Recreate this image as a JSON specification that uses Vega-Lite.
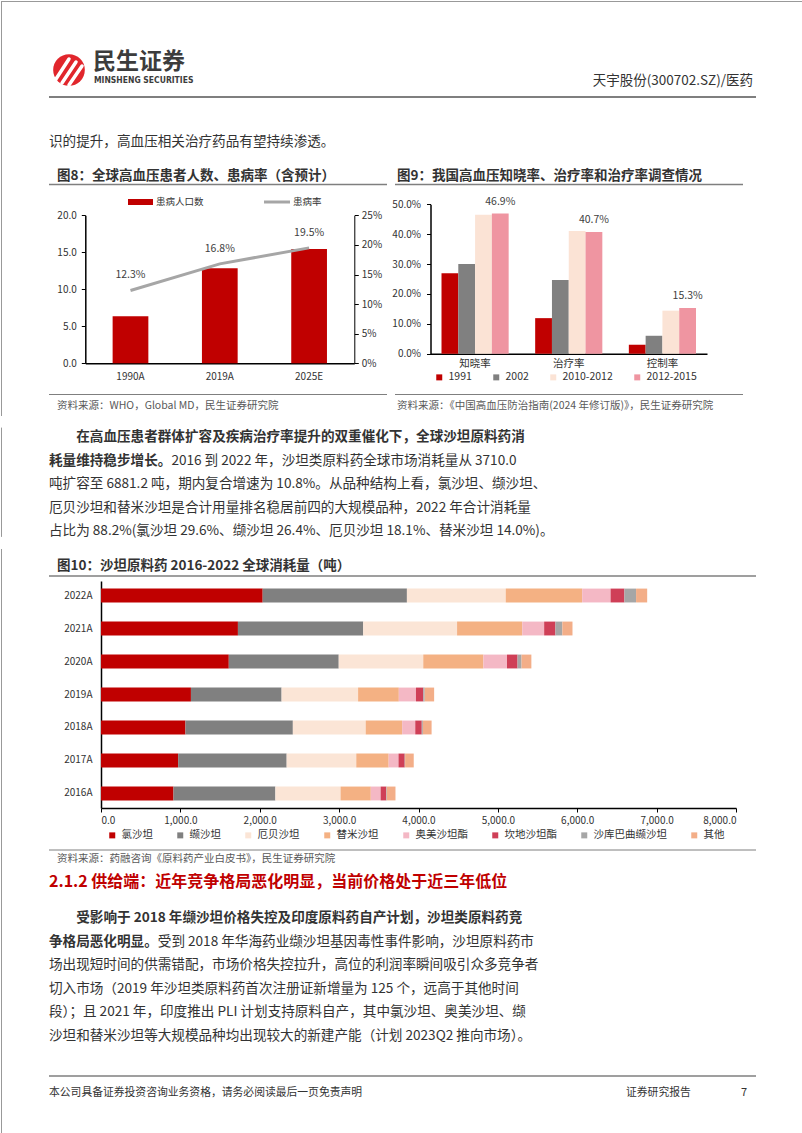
{
"$schema":"https://vega.github.io/schema/vega-lite/v6.json",
"padding":0,
"spacing":0,
"bounds":"flush",
"background":"#ffffff",
"config":{
 "view":{"stroke":null},
 "font":"Noto Sans CJK SC",
 "text":{"font":"Noto Sans CJK SC","color":"#333333"},
 "axis":{"labelFont":"Noto Sans CJK SC","labelColor":"#333333","domainColor":"#000000","tickColor":"#000000","grid":false},
 "legend":{"labelFont":"Noto Sans CJK SC","labelColor":"#333333"}
},
"vconcat":[
 {
  "width":802,"height":160,
  "layer":[
   {"data":{"values":[{}]},"mark":{"type":"rule","color":"#999999","strokeWidth":1},
    "encoding":{"x":{"datum":0.5,"type":"quantitative","scale":{"domain":[0,802],"range":[0,802],"nice":false,"zero":false},"axis":null},
                "y":{"datum":0,"type":"quantitative","scale":{"domain":[0,160],"range":[0,160],"nice":false,"zero":false},"axis":null},
                "y2":{"datum":160}}},
   {"data":{"values":[{}]},"mark":{"type":"rule","color":"#999999","strokeWidth":1},
    "encoding":{"x":{"datum":801.5,"type":"quantitative","scale":{"domain":[0,802],"range":[0,802],"nice":false,"zero":false},"axis":null},
                "y":{"datum":0,"type":"quantitative","scale":{"domain":[0,160],"range":[0,160],"nice":false,"zero":false},"axis":null},
                "y2":{"datum":160}}},
   {"data":{"values":[{}]},"mark":{"type":"rule","color":"#999999","strokeWidth":1},
    "encoding":{"x":{"datum":0,"type":"quantitative","scale":{"domain":[0,802],"range":[0,802],"nice":false,"zero":false},"axis":null},
                "y":{"datum":0.5,"type":"quantitative","scale":{"domain":[0,160],"range":[0,160],"nice":false,"zero":false},"axis":null},
                "x2":{"datum":802}}},
   {"data":{"values":[{}]},"mark":{"type":"point","shape":"circle","filled":true,"color":"#E1262C","opacity":1,"size":1000},
    "encoding":{"x":{"datum":68,"type":"quantitative","scale":{"domain":[0,802],"range":[0,802],"nice":false,"zero":false},"axis":null},
                "y":{"datum":69,"type":"quantitative","scale":{"domain":[0,160],"range":[0,160],"nice":false,"zero":false},"axis":null}}},
   {"data":{"values":[{}]},"mark":{"type":"rule","color":"#FFFFFF","strokeWidth":3.5,"strokeCap":"round"},
    "encoding":{"x":{"datum":55,"type":"quantitative","scale":{"domain":[0,802],"range":[0,802],"nice":false,"zero":false},"axis":null},
                "y":{"datum":78,"type":"quantitative","scale":{"domain":[0,160],"range":[0,160],"nice":false,"zero":false},"axis":null},
                "x2":{"datum":68},"y2":{"datum":58}}},
   {"data":{"values":[{}]},"mark":{"type":"rule","color":"#FFFFFF","strokeWidth":3.5,"strokeCap":"round"},
    "encoding":{"x":{"datum":61,"type":"quantitative","scale":{"domain":[0,802],"range":[0,802],"nice":false,"zero":false},"axis":null},
                "y":{"datum":82,"type":"quantitative","scale":{"domain":[0,160],"range":[0,160],"nice":false,"zero":false},"axis":null},
                "x2":{"datum":75},"y2":{"datum":61}}},
   {"data":{"values":[{}]},"mark":{"type":"rule","color":"#FFFFFF","strokeWidth":3.5,"strokeCap":"round"},
    "encoding":{"x":{"datum":68,"type":"quantitative","scale":{"domain":[0,802],"range":[0,802],"nice":false,"zero":false},"axis":null},
                "y":{"datum":84,"type":"quantitative","scale":{"domain":[0,160],"range":[0,160],"nice":false,"zero":false},"axis":null},
                "x2":{"datum":81},"y2":{"datum":65}}},
   {"data":{"values":[{"t":"民生证券"}]},"mark":{"type":"text","align":"left","baseline":"middle","fontSize":23,"fontWeight":"bold","color":"#3C3C3C"},
    "encoding":{"x":{"datum":92,"type":"quantitative","scale":{"domain":[0,802],"range":[0,802],"nice":false,"zero":false},"axis":null},
                "y":{"datum":61,"type":"quantitative","scale":{"domain":[0,160],"range":[0,160],"nice":false,"zero":false},"axis":null},
                "text":{"field":"t"}}},
   {"data":{"values":[{"t":"MINSHENG SECURITIES"}]},"mark":{"type":"text","align":"left","baseline":"middle","fontSize":8.5,"fontWeight":"bold","color":"#3C3C3C","font":"'Liberation Sans Narrow', 'DejaVu Sans Condensed', sans-serif"},
    "encoding":{"x":{"datum":93,"type":"quantitative","scale":{"domain":[0,802],"range":[0,802],"nice":false,"zero":false},"axis":null},
                "y":{"datum":79,"type":"quantitative","scale":{"domain":[0,160],"range":[0,160],"nice":false,"zero":false},"axis":null},
                "text":{"field":"t"}}},
   {"data":{"values":[{"t":"天宇股份(300702.SZ)/医药"}]},"mark":{"type":"text","align":"right","baseline":"middle","fontSize":13.5,"color":"#333333"},
    "encoding":{"x":{"datum":752,"type":"quantitative","scale":{"domain":[0,802],"range":[0,802],"nice":false,"zero":false},"axis":null},
                "y":{"datum":80,"type":"quantitative","scale":{"domain":[0,160],"range":[0,160],"nice":false,"zero":false},"axis":null},
                "text":{"field":"t"}}},
   {"data":{"values":[{}]},"mark":{"type":"rule","color":"#7F7F7F","strokeWidth":2},
    "encoding":{"x":{"datum":48,"type":"quantitative","scale":{"domain":[0,802],"range":[0,802],"nice":false,"zero":false},"axis":null},
                "y":{"datum":96,"type":"quantitative","scale":{"domain":[0,160],"range":[0,160],"nice":false,"zero":false},"axis":null},
                "x2":{"datum":755}}},
   {"data":{"values":[{"t":"识的提升，高血压相关治疗药品有望持续渗透。"}]},"mark":{"type":"text","align":"left","baseline":"middle","fontSize":13.6,"color":"#333333"},
    "encoding":{"x":{"datum":48,"type":"quantitative","scale":{"domain":[0,802],"range":[0,802],"nice":false,"zero":false},"axis":null},
                "y":{"datum":141,"type":"quantitative","scale":{"domain":[0,160],"range":[0,160],"nice":false,"zero":false},"axis":null},
                "text":{"field":"t"}}}
  ]
 },
 {
  "width":802,"height":255,
  "resolve":{"scale":{"x":"independent","y":"independent","color":"independent"}},
  "layer":[
   {"layer":[
     {"data":{"values":[{}]},"mark":{"type":"rule","color":"#999999","strokeWidth":1},
      "encoding":{"x":{"datum":0.5,"type":"quantitative","scale":{"domain":[0,802],"range":[0,802],"nice":false,"zero":false},"axis":null},
                  "y":{"datum":0,"type":"quantitative","scale":{"domain":[0,255],"range":[0,255],"nice":false,"zero":false},"axis":null},
                  "y2":{"datum":255}}},
     {"data":{"values":[{}]},"mark":{"type":"rule","color":"#999999","strokeWidth":1},
      "encoding":{"x":{"datum":801.5,"type":"quantitative","scale":{"domain":[0,802],"range":[0,802],"nice":false,"zero":false},"axis":null},
                  "y":{"datum":0,"type":"quantitative","scale":{"domain":[0,255],"range":[0,255],"nice":false,"zero":false},"axis":null},
                  "y2":{"datum":255}}},
     {"data":{"values":[{"t":"图8：全球高血压患者人数、患病率（含预计）"}]},"mark":{"type":"text","align":"left","baseline":"middle","fontSize":13.5,"fontWeight":"bold","color":"#333333"},
      "encoding":{"x":{"datum":56,"type":"quantitative","scale":{"domain":[0,802],"range":[0,802],"nice":false,"zero":false},"axis":null},
                  "y":{"datum":15,"type":"quantitative","scale":{"domain":[0,255],"range":[0,255],"nice":false,"zero":false},"axis":null},
                  "text":{"field":"t"}}},
     {"data":{"values":[{"t":"图9：我国高血压知晓率、治疗率和治疗率调查情况"}]},"mark":{"type":"text","align":"left","baseline":"middle","fontSize":13.5,"fontWeight":"bold","color":"#333333"},
      "encoding":{"x":{"datum":396,"type":"quantitative","scale":{"domain":[0,802],"range":[0,802],"nice":false,"zero":false},"axis":null},
                  "y":{"datum":15,"type":"quantitative","scale":{"domain":[0,255],"range":[0,255],"nice":false,"zero":false},"axis":null},
                  "text":{"field":"t"}}},
     {"data":{"values":[{}]},"mark":{"type":"rule","color":"#7F7F7F","strokeWidth":1.5},
      "encoding":{"x":{"datum":48,"type":"quantitative","scale":{"domain":[0,802],"range":[0,802],"nice":false,"zero":false},"axis":null},
                  "y":{"datum":23.5,"type":"quantitative","scale":{"domain":[0,255],"range":[0,255],"nice":false,"zero":false},"axis":null},
                  "x2":{"datum":386}}},
     {"data":{"values":[{}]},"mark":{"type":"rule","color":"#7F7F7F","strokeWidth":1.5},
      "encoding":{"x":{"datum":394,"type":"quantitative","scale":{"domain":[0,802],"range":[0,802],"nice":false,"zero":false},"axis":null},
                  "y":{"datum":23.5,"type":"quantitative","scale":{"domain":[0,255],"range":[0,255],"nice":false,"zero":false},"axis":null},
                  "x2":{"datum":742}}},
     {"data":{"values":[{}]},"mark":{"type":"rule","color":"#7F7F7F","strokeWidth":1},
      "encoding":{"x":{"datum":48,"type":"quantitative","scale":{"domain":[0,802],"range":[0,802],"nice":false,"zero":false},"axis":null},
                  "y":{"datum":233.5,"type":"quantitative","scale":{"domain":[0,255],"range":[0,255],"nice":false,"zero":false},"axis":null},
                  "x2":{"datum":386}}},
     {"data":{"values":[{}]},"mark":{"type":"rule","color":"#7F7F7F","strokeWidth":1},
      "encoding":{"x":{"datum":394,"type":"quantitative","scale":{"domain":[0,802],"range":[0,802],"nice":false,"zero":false},"axis":null},
                  "y":{"datum":233.5,"type":"quantitative","scale":{"domain":[0,255],"range":[0,255],"nice":false,"zero":false},"axis":null},
                  "x2":{"datum":742}}},
     {"data":{"values":[{"t":"资料来源：WHO，Global MD，民生证券研究院"}]},"mark":{"type":"text","align":"left","baseline":"middle","fontSize":10.5,"color":"#595959"},
      "encoding":{"x":{"datum":56,"type":"quantitative","scale":{"domain":[0,802],"range":[0,802],"nice":false,"zero":false},"axis":null},
                  "y":{"datum":245,"type":"quantitative","scale":{"domain":[0,255],"range":[0,255],"nice":false,"zero":false},"axis":null},
                  "text":{"field":"t"}}},
     {"data":{"values":[{"t":"资料来源：《中国高血压防治指南(2024 年修订版)》，民生证券研究院"}]},"mark":{"type":"text","align":"left","baseline":"middle","fontSize":10.5,"color":"#595959"},
      "encoding":{"x":{"datum":396,"type":"quantitative","scale":{"domain":[0,802],"range":[0,802],"nice":false,"zero":false},"axis":null},
                  "y":{"datum":245,"type":"quantitative","scale":{"domain":[0,255],"range":[0,255],"nice":false,"zero":false},"axis":null},
                  "text":{"field":"t"}}},
     {"data":{"values":[{}]},"mark":{"type":"rect","color":"#C00000"},
      "encoding":{"x":{"datum":127,"type":"quantitative","scale":{"domain":[0,802],"range":[0,802],"nice":false,"zero":false},"axis":null},
                  "y":{"datum":38,"type":"quantitative","scale":{"domain":[0,255],"range":[0,255],"nice":false,"zero":false},"axis":null},
                  "x2":{"datum":152},"y2":{"datum":44}}},
     {"data":{"values":[{"t":"患病人口数"}]},"mark":{"type":"text","align":"left","baseline":"middle","fontSize":9.5,"color":"#333333"},
      "encoding":{"x":{"datum":155,"type":"quantitative","scale":{"domain":[0,802],"range":[0,802],"nice":false,"zero":false},"axis":null},
                  "y":{"datum":41,"type":"quantitative","scale":{"domain":[0,255],"range":[0,255],"nice":false,"zero":false},"axis":null},
                  "text":{"field":"t"}}},
     {"data":{"values":[{}]},"mark":{"type":"rule","color":"#A6A6A6","strokeWidth":3},
      "encoding":{"x":{"datum":263,"type":"quantitative","scale":{"domain":[0,802],"range":[0,802],"nice":false,"zero":false},"axis":null},
                  "y":{"datum":41,"type":"quantitative","scale":{"domain":[0,255],"range":[0,255],"nice":false,"zero":false},"axis":null},
                  "x2":{"datum":289}}},
     {"data":{"values":[{"t":"患病率"}]},"mark":{"type":"text","align":"left","baseline":"middle","fontSize":9.5,"color":"#333333"},
      "encoding":{"x":{"datum":292,"type":"quantitative","scale":{"domain":[0,802],"range":[0,802],"nice":false,"zero":false},"axis":null},
                  "y":{"datum":41,"type":"quantitative","scale":{"domain":[0,255],"range":[0,255],"nice":false,"zero":false},"axis":null},
                  "text":{"field":"t"}}}
   ]},
   {
    "data":{"values":[
     {"year":"1990A","pop":6.35,"rate":0.123},
     {"year":"2019A","pop":12.85,"rate":0.168},
     {"year":"2025E","pop":15.45,"rate":0.195}
    ]},
    "resolve":{"scale":{"y":"independent"}},
    "layer":[
     {"mark":{"type":"bar","color":"#C00000"},
      "encoding":{
       "x":{"field":"year","type":"nominal","sort":null,"scale":{"range":[84.3,353.3],"paddingInner":0.6,"paddingOuter":0.306},
            "axis":{"orient":"bottom","offset":-52.7,"title":null,"labelAngle":0,"ticks":false,"labelPadding":8,"labelFontSize":10,"domainColor":"#000000","domainWidth":1.5}},
       "y":{"field":"pop","type":"quantitative","scale":{"domain":[0,20],"range":[202.3,54.3],"nice":false},
            "axis":{"orient":"left","offset":-84.3,"values":[0,5,10,15,20],"format":".1f","title":null,"grid":false,"tickSize":4,"labelPadding":5,"labelFontSize":10,"domainColor":"#000000","domainWidth":1.5}}
      }},
     {"mark":{"type":"line","color":"#A6A6A6","strokeWidth":3},
      "encoding":{
       "x":{"field":"year","type":"nominal","sort":null},
       "y":{"field":"rate","type":"quantitative","scale":{"domain":[0,0.25],"range":[202.3,54.3],"nice":false},
            "axis":{"orient":"right","offset":-448.7,"values":[0,0.05,0.1,0.15,0.2,0.25],"format":".0%","title":null,"grid":false,"tickSize":4,"labelPadding":3,"labelFontSize":10,"domainColor":"#000000","domainWidth":1}}
      }},
     {"mark":{"type":"text","dy":-15,"fontSize":10.5,"color":"#404040"},
      "encoding":{
       "x":{"field":"year","type":"nominal","sort":null},
       "y":{"field":"rate","type":"quantitative","scale":{"domain":[0,0.25],"range":[202.3,54.3],"nice":false},"axis":null},
       "text":{"field":"rate","type":"quantitative","format":".1%"}
      }}
    ]
   },
   {
    "data":{"values":[
     {"c":"知晓率","s":"1991","v":0.269},{"c":"知晓率","s":"2002","v":0.300},{"c":"知晓率","s":"2010-2012","v":0.465},{"c":"知晓率","s":"2012-2015","v":0.469},
     {"c":"治疗率","s":"1991","v":0.119},{"c":"治疗率","s":"2002","v":0.247},{"c":"治疗率","s":"2010-2012","v":0.411},{"c":"治疗率","s":"2012-2015","v":0.407},
     {"c":"控制率","s":"1991","v":0.030},{"c":"控制率","s":"2002","v":0.060},{"c":"控制率","s":"2010-2012","v":0.144},{"c":"控制率","s":"2012-2015","v":0.153}
    ]},
    "layer":[
     {"mark":{"type":"bar"},
      "encoding":{
       "x":{"field":"c","type":"nominal","sort":["知晓率","治疗率","控制率"],"scale":{"range":[429.5,706],"paddingInner":0.283,"paddingOuter":0.1175},
            "axis":{"orient":"bottom","offset":-62.3,"title":null,"labelAngle":0,"ticks":false,"labelPadding":5,"labelFontSize":10.5,"domainColor":"#000000","domainWidth":1.5}},
       "xOffset":{"field":"s","type":"nominal","sort":["1991","2002","2010-2012","2012-2015"],"scale":{"paddingInner":0,"paddingOuter":0}},
       "y":{"field":"v","type":"quantitative","scale":{"domain":[0,0.5],"range":[192.7,43.3],"nice":false},
            "axis":{"orient":"left","offset":-429.5,"values":[0,0.1,0.2,0.3,0.4,0.5],"format":".1%","title":null,"grid":false,"tickSize":4,"labelPadding":6,"labelFontSize":10,"domainColor":"#000000","domainWidth":1.5}},
       "color":{"field":"s","type":"nominal","sort":["1991","2002","2010-2012","2012-2015"],
            "scale":{"domain":["1991","2002","2010-2012","2012-2015"],"range":["#C00000","#808080","#FBE3D5","#EF95A1"]},
            "legend":{"orient":"none","legendX":433,"legendY":211,"direction":"horizontal","columns":4,"title":null,"symbolType":"square","symbolSize":36,"symbolStrokeWidth":0,"labelFontSize":10.5,"columnPadding":19,"labelOffset":4,"padding":0}}
      }},
     {"transform":[{"filter":"datum.s === '2012-2015'"}],
      "mark":{"type":"text","dy":-12,"fontSize":10.5,"color":"#404040"},
      "encoding":{
       "x":{"field":"c","type":"nominal","sort":["知晓率","治疗率","控制率"]},
       "xOffset":{"field":"s","type":"nominal","sort":["1991","2002","2010-2012","2012-2015"]},
       "y":{"field":"v","type":"quantitative"},
       "text":{"field":"v","type":"quantitative","format":".1%"}
      }}
    ]
   }
  ]
 },
 {
  "width":802,"height":133,
  "layer":[
   {"data":{"values":[{}]},"mark":{"type":"rule","color":"#999999","strokeWidth":1},
    "encoding":{"x":{"datum":0.5,"type":"quantitative","scale":{"domain":[0,802],"range":[0,802],"nice":false,"zero":false},"axis":null},
                "y":{"datum":0.6,"type":"quantitative","scale":{"domain":[1,5],"range":[21,115],"nice":false,"zero":false},"axis":null},
                "y2":{"datum":5.25}}},
   {"data":{"values":[{}]},"mark":{"type":"rule","color":"#999999","strokeWidth":1},
    "encoding":{"x":{"datum":801.5,"type":"quantitative","scale":{"domain":[0,802],"range":[0,802],"nice":false,"zero":false},"axis":null},
                "y":{"datum":0.6,"type":"quantitative","scale":{"domain":[1,5],"range":[21,115],"nice":false,"zero":false},"axis":null},
                "y2":{"datum":5.25}}},
   {"data":{"values":[{"line":1,"t":"在高血压患者群体扩容及疾病治疗率提升的双重催化下，全球沙坦原料药消"}]},
    "mark":{"type":"text","align":"left","baseline":"middle","fontSize":13.6,"fontWeight":"bold","color":"#333333","dx":27.2},
    "encoding":{"x":{"datum":48,"type":"quantitative","scale":{"domain":[0,802],"range":[0,802],"nice":false,"zero":false},"axis":null},
                "y":{"field":"line","type":"quantitative","scale":{"domain":[1,5],"range":[21,115],"nice":false,"zero":false},"axis":null},
                "text":{"field":"t"}}},
   {"data":{"values":[{"line":2,"t":"耗量维持稳步增长。"}]},
    "mark":{"type":"text","align":"left","baseline":"middle","fontSize":13.6,"fontWeight":"bold","color":"#333333"},
    "encoding":{"x":{"datum":48,"type":"quantitative","scale":{"domain":[0,802],"range":[0,802],"nice":false,"zero":false},"axis":null},
                "y":{"field":"line","type":"quantitative","scale":{"domain":[1,5],"range":[21,115],"nice":false,"zero":false},"axis":null},
                "text":{"field":"t"}}},
   {"data":{"values":[{"line":2,"t":"2016 到 2022 年，沙坦类原料药全球市场消耗量从 3710.0"}]},
    "mark":{"type":"text","align":"left","baseline":"middle","fontSize":13.6,"color":"#333333","dx":122.4},
    "encoding":{"x":{"datum":48,"type":"quantitative","scale":{"domain":[0,802],"range":[0,802],"nice":false,"zero":false},"axis":null},
                "y":{"field":"line","type":"quantitative","scale":{"domain":[1,5],"range":[21,115],"nice":false,"zero":false},"axis":null},
                "text":{"field":"t"}}},
   {"data":{"values":[
     {"line":3,"t":"吨扩容至 6881.2 吨，期内复合增速为 10.8%。从品种结构上看，氯沙坦、缬沙坦、"},
     {"line":4,"t":"厄贝沙坦和替米沙坦是合计用量排名稳居前四的大规模品种，2022 年合计消耗量"},
     {"line":5,"t":"占比为 88.2%(氯沙坦 29.6%、缬沙坦 26.4%、厄贝沙坦 18.1%、替米沙坦 14.0%)。"}
    ]},
    "mark":{"type":"text","align":"left","baseline":"middle","fontSize":13.6,"color":"#333333"},
    "encoding":{"x":{"datum":48,"type":"quantitative","scale":{"domain":[0,802],"range":[0,802],"nice":false,"zero":false},"axis":null},
                "y":{"field":"line","type":"quantitative","scale":{"domain":[1,5],"range":[21,115],"nice":false,"zero":false},"axis":null},
                "text":{"field":"t"}}}
  ]
 },
 {
  "width":802,"height":322,
  "resolve":{"scale":{"x":"independent","y":"independent","color":"independent"}},
  "layer":[
   {"layer":[
     {"data":{"values":[{}]},"mark":{"type":"rule","color":"#999999","strokeWidth":1},
      "encoding":{"x":{"datum":0.5,"type":"quantitative","scale":{"domain":[0,802],"range":[0,802],"nice":false,"zero":false},"axis":null},
                  "y":{"datum":0,"type":"quantitative","scale":{"domain":[0,322],"range":[0,322],"nice":false,"zero":false},"axis":null},
                  "y2":{"datum":322}}},
     {"data":{"values":[{}]},"mark":{"type":"rule","color":"#999999","strokeWidth":1},
      "encoding":{"x":{"datum":801.5,"type":"quantitative","scale":{"domain":[0,802],"range":[0,802],"nice":false,"zero":false},"axis":null},
                  "y":{"datum":0,"type":"quantitative","scale":{"domain":[0,322],"range":[0,322],"nice":false,"zero":false},"axis":null},
                  "y2":{"datum":322}}},
     {"data":{"values":[{"t":"图10：沙坦原料药 2016-2022 全球消耗量（吨）"}]},"mark":{"type":"text","align":"left","baseline":"middle","fontSize":13.5,"fontWeight":"bold","color":"#333333"},
      "encoding":{"x":{"datum":56,"type":"quantitative","scale":{"domain":[0,802],"range":[0,802],"nice":false,"zero":false},"axis":null},
                  "y":{"datum":17,"type":"quantitative","scale":{"domain":[0,322],"range":[0,322],"nice":false,"zero":false},"axis":null},
                  "text":{"field":"t"}}},
     {"data":{"values":[{}]},"mark":{"type":"rule","color":"#7F7F7F","strokeWidth":1.5},
      "encoding":{"x":{"datum":48,"type":"quantitative","scale":{"domain":[0,802],"range":[0,802],"nice":false,"zero":false},"axis":null},
                  "y":{"datum":27,"type":"quantitative","scale":{"domain":[0,322],"range":[0,322],"nice":false,"zero":false},"axis":null},
                  "x2":{"datum":755}}},
     {"data":{"values":[{}]},"mark":{"type":"rule","color":"#7F7F7F","strokeWidth":1},
      "encoding":{"x":{"datum":48,"type":"quantitative","scale":{"domain":[0,802],"range":[0,802],"nice":false,"zero":false},"axis":null},
                  "y":{"datum":301,"type":"quantitative","scale":{"domain":[0,322],"range":[0,322],"nice":false,"zero":false},"axis":null},
                  "x2":{"datum":755}}},
     {"data":{"values":[{"t":"资料来源：药融咨询《原料药产业白皮书》，民生证券研究院"}]},"mark":{"type":"text","align":"left","baseline":"middle","fontSize":10.5,"color":"#595959"},
      "encoding":{"x":{"datum":56,"type":"quantitative","scale":{"domain":[0,802],"range":[0,802],"nice":false,"zero":false},"axis":null},
                  "y":{"datum":310,"type":"quantitative","scale":{"domain":[0,322],"range":[0,322],"nice":false,"zero":false},"axis":null},
                  "text":{"field":"t"}}}
   ]},
   {
    "data":{"values":[
     {"y":"2016A","d":"氯沙坦","o":1,"v":913},{"y":"2016A","d":"缬沙坦","o":2,"v":1284},{"y":"2016A","d":"厄贝沙坦","o":3,"v":821},{"y":"2016A","d":"替米沙坦","o":4,"v":381},{"y":"2016A","d":"奥美沙坦酯","o":5,"v":124},{"y":"2016A","d":"坎地沙坦酯","o":6,"v":69},{"y":"2016A","d":"沙库巴曲缬沙坦","o":7,"v":8},{"y":"2016A","d":"其他","o":8,"v":110},
     {"y":"2017A","d":"氯沙坦","o":1,"v":972},{"y":"2017A","d":"缬沙坦","o":2,"v":1367},{"y":"2017A","d":"厄贝沙坦","o":3,"v":877},{"y":"2017A","d":"替米沙坦","o":4,"v":408},{"y":"2017A","d":"奥美沙坦酯","o":5,"v":124},{"y":"2017A","d":"坎地沙坦酯","o":6,"v":78},{"y":"2017A","d":"沙库巴曲缬沙坦","o":7,"v":5},{"y":"2017A","d":"其他","o":8,"v":109},
     {"y":"2018A","d":"氯沙坦","o":1,"v":1064},{"y":"2018A","d":"缬沙坦","o":2,"v":1353},{"y":"2018A","d":"厄贝沙坦","o":3,"v":918},{"y":"2018A","d":"替米沙坦","o":4,"v":459},{"y":"2018A","d":"奥美沙坦酯","o":5,"v":165},{"y":"2018A","d":"坎地沙坦酯","o":6,"v":82},{"y":"2018A","d":"沙库巴曲缬沙坦","o":7,"v":14},{"y":"2018A","d":"其他","o":8,"v":110},
     {"y":"2019A","d":"氯沙坦","o":1,"v":1133},{"y":"2019A","d":"缬沙坦","o":2,"v":1142},{"y":"2019A","d":"厄贝沙坦","o":3,"v":964},{"y":"2019A","d":"替米沙坦","o":4,"v":513},{"y":"2019A","d":"奥美沙坦酯","o":5,"v":216},{"y":"2019A","d":"坎地沙坦酯","o":6,"v":92},{"y":"2019A","d":"沙库巴曲缬沙坦","o":7,"v":18},{"y":"2019A","d":"其他","o":8,"v":119},
     {"y":"2020A","d":"氯沙坦","o":1,"v":1610},{"y":"2020A","d":"缬沙坦","o":2,"v":1385},{"y":"2020A","d":"厄贝沙坦","o":3,"v":1065},{"y":"2020A","d":"替米沙坦","o":4,"v":757},{"y":"2020A","d":"奥美沙坦酯","o":5,"v":298},{"y":"2020A","d":"坎地沙坦酯","o":6,"v":133},{"y":"2020A","d":"沙库巴曲缬沙坦","o":7,"v":50},{"y":"2020A","d":"其他","o":8,"v":124},
     {"y":"2021A","d":"氯沙坦","o":1,"v":1725},{"y":"2021A","d":"缬沙坦","o":2,"v":1578},{"y":"2021A","d":"厄贝沙坦","o":3,"v":1183},{"y":"2021A","d":"替米沙坦","o":4,"v":821},{"y":"2021A","d":"奥美沙坦酯","o":5,"v":276},{"y":"2021A","d":"坎地沙坦酯","o":6,"v":142},{"y":"2021A","d":"沙库巴曲缬沙坦","o":7,"v":87},{"y":"2021A","d":"其他","o":8,"v":128},
     {"y":"2022A","d":"氯沙坦","o":1,"v":2037},{"y":"2022A","d":"缬沙坦","o":2,"v":1817},{"y":"2022A","d":"厄贝沙坦","o":3,"v":1245},{"y":"2022A","d":"替米沙坦","o":4,"v":963},{"y":"2022A","d":"奥美沙坦酯","o":5,"v":358},{"y":"2022A","d":"坎地沙坦酯","o":6,"v":174},{"y":"2022A","d":"沙库巴曲缬沙坦","o":7,"v":147},{"y":"2022A","d":"其他","o":8,"v":140}
    ]},
    "mark":{"type":"bar"},
    "encoding":{
     "y":{"field":"y","type":"nominal","sort":["2022A","2021A","2020A","2019A","2018A","2017A","2016A"],
          "scale":{"range":[32,259],"paddingInner":0.58,"paddingOuter":0.23},
          "axis":{"orient":"left","offset":-100,"title":null,"ticks":false,"labelPadding":9,"labelFontSize":10,"domainColor":"#000000","domainWidth":1.5}},
     "x":{"field":"v","type":"quantitative","stack":"zero","scale":{"domain":[0,8000],"range":[100,735],"nice":false},
          "axis":{"orient":"bottom","offset":-63,"values":[0,1000,2000,3000,4000,5000,6000,7000,8000],"format":",.1f","title":null,"grid":false,"tickSize":4,"labelPadding":3,"labelFontSize":10,"domainColor":"#000000","domainWidth":1.5}},
     "color":{"field":"d","type":"nominal",
          "scale":{"domain":["氯沙坦","缬沙坦","厄贝沙坦","替米沙坦","奥美沙坦酯","坎地沙坦酯","沙库巴曲缬沙坦","其他"],
                   "range":["#C00000","#808080","#FBE5D6","#F4B183","#F4B8C5","#CF3F57","#A6A6A6","#F3AE88"]},
          "legend":{"orient":"none","legendX":106,"legendY":281,"direction":"horizontal","columns":8,"title":null,"symbolType":"square","symbolSize":36,"symbolStrokeWidth":0,"labelFontSize":10.5,"columnPadding":22,"labelOffset":4,"padding":0}},
     "order":{"field":"o","type":"quantitative"}
    }
   }
  ]
 },
 {
  "width":802,"height":180,
  "resolve":{"scale":{"y":"independent"}},
  "layer":[
   {"layer":[
     {"data":{"values":[{}]},"mark":{"type":"rule","color":"#999999","strokeWidth":1},
      "encoding":{"x":{"datum":0.5,"type":"quantitative","scale":{"domain":[0,802],"range":[0,802],"nice":false,"zero":false},"axis":null},
                  "y":{"datum":0,"type":"quantitative","scale":{"domain":[0,180],"range":[0,180],"nice":false,"zero":false},"axis":null},
                  "y2":{"datum":180}}},
     {"data":{"values":[{}]},"mark":{"type":"rule","color":"#999999","strokeWidth":1},
      "encoding":{"x":{"datum":801.5,"type":"quantitative","scale":{"domain":[0,802],"range":[0,802],"nice":false,"zero":false},"axis":null},
                  "y":{"datum":0,"type":"quantitative","scale":{"domain":[0,180],"range":[0,180],"nice":false,"zero":false},"axis":null},
                  "y2":{"datum":180}}},
     {"data":{"values":[{"t":"2.1.2 供给端：近年竞争格局恶化明显，当前价格处于近三年低位"}]},
      "mark":{"type":"text","align":"left","baseline":"middle","fontSize":16,"fontWeight":"bold","color":"#C00000"},
      "encoding":{"x":{"datum":48,"type":"quantitative","scale":{"domain":[0,802],"range":[0,802],"nice":false,"zero":false},"axis":null},
                  "y":{"datum":11,"type":"quantitative","scale":{"domain":[0,180],"range":[0,180],"nice":false,"zero":false},"axis":null},
                  "text":{"field":"t"}}}
   ]},
   {"layer":[
     {"data":{"values":[{"line":1,"t":"受影响于 2018 年缬沙坦价格失控及印度原料药自产计划，沙坦类原料药竞"}]},
      "mark":{"type":"text","align":"left","baseline":"middle","fontSize":13.6,"fontWeight":"bold","color":"#333333","dx":27.2},
      "encoding":{"x":{"datum":48,"type":"quantitative","scale":{"domain":[0,802],"range":[0,802],"nice":false,"zero":false},"axis":null},
                  "y":{"field":"line","type":"quantitative","scale":{"domain":[1,6],"range":[47,164.5],"nice":false,"zero":false},"axis":null},
                  "text":{"field":"t"}}},
     {"data":{"values":[{"line":2,"t":"争格局恶化明显。"}]},
      "mark":{"type":"text","align":"left","baseline":"middle","fontSize":13.6,"fontWeight":"bold","color":"#333333"},
      "encoding":{"x":{"datum":48,"type":"quantitative","scale":{"domain":[0,802],"range":[0,802],"nice":false,"zero":false},"axis":null},
                  "y":{"field":"line","type":"quantitative","scale":{"domain":[1,6],"range":[47,164.5],"nice":false,"zero":false},"axis":null},
                  "text":{"field":"t"}}},
     {"data":{"values":[{"line":2,"t":"受到 2018 年华海药业缬沙坦基因毒性事件影响，沙坦原料药市"}]},
      "mark":{"type":"text","align":"left","baseline":"middle","fontSize":13.6,"color":"#333333","dx":108.8},
      "encoding":{"x":{"datum":48,"type":"quantitative","scale":{"domain":[0,802],"range":[0,802],"nice":false,"zero":false},"axis":null},
                  "y":{"field":"line","type":"quantitative","scale":{"domain":[1,6],"range":[47,164.5],"nice":false,"zero":false},"axis":null},
                  "text":{"field":"t"}}},
     {"data":{"values":[
       {"line":3,"t":"场出现短时间的供需错配，市场价格失控拉升，高位的利润率瞬间吸引众多竞争者"},
       {"line":4,"t":"切入市场（2019 年沙坦类原料药首次注册证新增量为 125 个，远高于其他时间"},
       {"line":5,"t":"段）；且 2021 年，印度推出 PLI 计划支持原料自产，其中氯沙坦、奥美沙坦、缬"},
       {"line":6,"t":"沙坦和替米沙坦等大规模品种均出现较大的新建产能（计划 2023Q2 推向市场）。"}
      ]},
      "mark":{"type":"text","align":"left","baseline":"middle","fontSize":13.6,"color":"#333333"},
      "encoding":{"x":{"datum":48,"type":"quantitative","scale":{"domain":[0,802],"range":[0,802],"nice":false,"zero":false},"axis":null},
                  "y":{"field":"line","type":"quantitative","scale":{"domain":[1,6],"range":[47,164.5],"nice":false,"zero":false},"axis":null},
                  "text":{"field":"t"}}}
   ]}
  ]
 },
 {
  "width":802,"height":83,
  "layer":[
   {"data":{"values":[{}]},"mark":{"type":"rule","color":"#999999","strokeWidth":1},
    "encoding":{"x":{"datum":0.5,"type":"quantitative","scale":{"domain":[0,802],"range":[0,802],"nice":false,"zero":false},"axis":null},
                "y":{"datum":0,"type":"quantitative","scale":{"domain":[0,83],"range":[0,83],"nice":false,"zero":false},"axis":null},
                "y2":{"datum":83}}},
   {"data":{"values":[{}]},"mark":{"type":"rule","color":"#999999","strokeWidth":1},
    "encoding":{"x":{"datum":801.5,"type":"quantitative","scale":{"domain":[0,802],"range":[0,802],"nice":false,"zero":false},"axis":null},
                "y":{"datum":0,"type":"quantitative","scale":{"domain":[0,83],"range":[0,83],"nice":false,"zero":false},"axis":null},
                "y2":{"datum":83}}},
   {"data":{"values":[{}]},"mark":{"type":"rule","color":"#999999","strokeWidth":1},
    "encoding":{"x":{"datum":0,"type":"quantitative","scale":{"domain":[0,802],"range":[0,802],"nice":false,"zero":false},"axis":null},
                "y":{"datum":82.5,"type":"quantitative","scale":{"domain":[0,83],"range":[0,83],"nice":false,"zero":false},"axis":null},
                "x2":{"datum":802}}},
   {"data":{"values":[{}]},"mark":{"type":"rule","color":"#7F7F7F","strokeWidth":1.5},
    "encoding":{"x":{"datum":48,"type":"quantitative","scale":{"domain":[0,802],"range":[0,802],"nice":false,"zero":false},"axis":null},
                "y":{"datum":25,"type":"quantitative","scale":{"domain":[0,83],"range":[0,83],"nice":false,"zero":false},"axis":null},
                "x2":{"datum":755}}},
   {"data":{"values":[{"t":"本公司具备证券投资咨询业务资格，请务必阅读最后一页免责声明"}]},"mark":{"type":"text","align":"left","baseline":"middle","fontSize":10.8,"color":"#333333"},
    "encoding":{"x":{"datum":48,"type":"quantitative","scale":{"domain":[0,802],"range":[0,802],"nice":false,"zero":false},"axis":null},
                "y":{"datum":42,"type":"quantitative","scale":{"domain":[0,83],"range":[0,83],"nice":false,"zero":false},"axis":null},
                "text":{"field":"t"}}},
   {"data":{"values":[{"t":"证券研究报告"}]},"mark":{"type":"text","align":"left","baseline":"middle","fontSize":10.8,"color":"#333333"},
    "encoding":{"x":{"datum":625,"type":"quantitative","scale":{"domain":[0,802],"range":[0,802],"nice":false,"zero":false},"axis":null},
                "y":{"datum":42,"type":"quantitative","scale":{"domain":[0,83],"range":[0,83],"nice":false,"zero":false},"axis":null},
                "text":{"field":"t"}}},
   {"data":{"values":[{"t":"7"}]},"mark":{"type":"text","align":"center","baseline":"middle","fontSize":11,"color":"#333333"},
    "encoding":{"x":{"datum":743,"type":"quantitative","scale":{"domain":[0,802],"range":[0,802],"nice":false,"zero":false},"axis":null},
                "y":{"datum":42,"type":"quantitative","scale":{"domain":[0,83],"range":[0,83],"nice":false,"zero":false},"axis":null},
                "text":{"field":"t"}}}
  ]
 }
]
}
